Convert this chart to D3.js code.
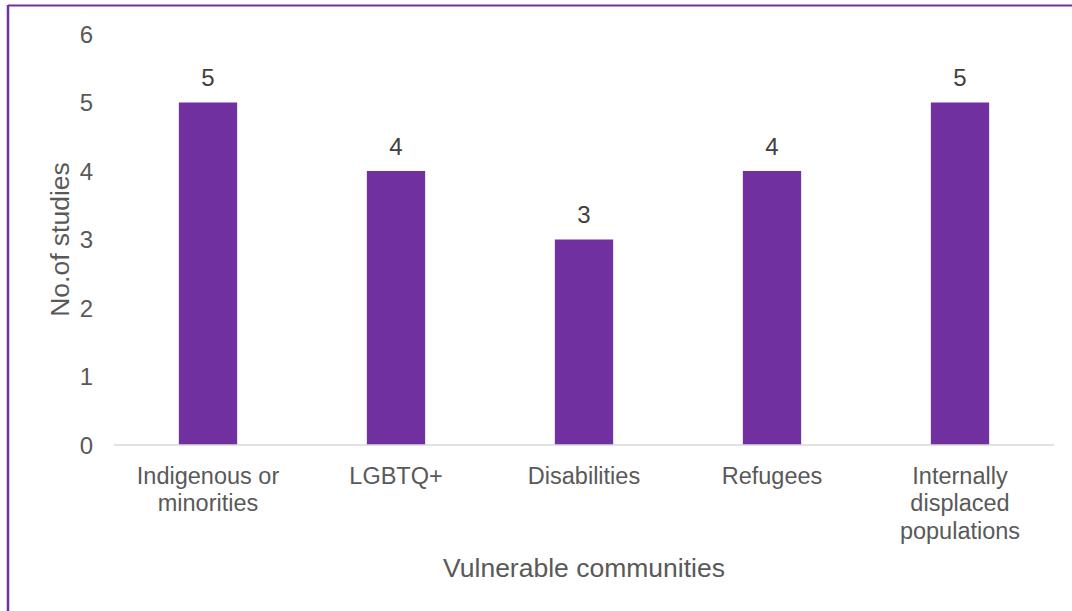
<!DOCTYPE html>
<html>
<head>
<meta charset="utf-8">
<script src="https://cdn.jsdelivr.net/npm/d3@7"></script>
<style>
  html, body { margin: 0; padding: 0; background: #fff; }
  svg { display: block; font-family: "Liberation Sans", Arial, sans-serif; }
</style>
</head>
<body>
<svg id="chart" width="1072" height="611"></svg>
<script>
// Number of studies per vulnerable community
const categories = [
  ["Indigenous or", "minorities"],
  ["LGBTQ+"],
  ["Disabilities"],
  ["Refugees"],
  ["Internally", "displaced", "populations"]
];
const studies = [5, 4, 3, 4, 5];
const yTicks = [0, 1, 2, 3, 4, 5, 6];

const svg = d3.select("#chart");
const W = 1072, H = 611;
const margin = { left: 114, right: 18, top: 34, bottom: 166 };
const textColor = "#595959";
const barColor = "#7030a0";
const fontFamily = "Liberation Sans, Arial, sans-serif";

// frame lines on top and left
svg.append("line").attr("x1", 8).attr("x2", W).attr("y1", 5.5).attr("y2", 5.5)
  .attr("stroke", barColor).attr("stroke-width", 2);
svg.append("line").attr("x1", 8).attr("x2", 8).attr("y1", 5).attr("y2", H)
  .attr("stroke", barColor).attr("stroke-width", 2.5);

const keys = categories.map((c, i) => i);
const x = d3.scaleBand().domain(keys).range([margin.left, W - margin.right]).paddingInner(0.69).paddingOuter(0.345);
const y = d3.scaleLinear().domain([0, 6]).range([H - margin.bottom, margin.top]);

// y axis tick labels
const yAxis = d3.axisLeft(y).tickValues(yTicks).tickSize(0).tickPadding(0).tickFormat(d3.format("d"));
const gy = svg.append("g").attr("transform", `translate(${margin.left - 21},0)`).call(yAxis);
gy.select(".domain").remove();
gy.selectAll("text").attr("fill", textColor).attr("font-size", 24)
  .attr("font-family", fontFamily).attr("dy", "0.35em");

// bars
svg.append("g").selectAll("rect").data(studies).join("rect")
  .attr("x", (d, i) => x(i))
  .attr("y", d => y(d))
  .attr("width", x.bandwidth())
  .attr("height", d => y(0) - y(d))
  .attr("fill", barColor);

// value labels
svg.append("g").selectAll("text").data(studies).join("text")
  .attr("x", (d, i) => x(i) + x.bandwidth() / 2)
  .attr("y", d => y(d) - 16.5)
  .attr("text-anchor", "middle")
  .attr("fill", "#404040")
  .attr("font-size", 24)
  .text(d => d);

// baseline
const xAxis = d3.axisBottom(x).tickSize(0).tickFormat("");
const gx = svg.append("g").attr("transform", `translate(0,${y(0)})`).call(xAxis);
gx.select(".domain").attr("stroke", "#d9d9d9").attr("stroke-width", 1.5)
  .attr("d", `M${margin.left},0H${W - margin.right}`);

// category labels
gx.selectAll(".tick").each(function (d) {
  const t = d3.select(this).append("text")
    .attr("text-anchor", "middle")
    .attr("fill", textColor)
    .attr("font-size", 23.5)
    .attr("font-family", fontFamily);
  categories[d].forEach((line, j) => {
    t.append("tspan").attr("x", 0).attr("y", 38.5 + j * 27.5).text(line);
  });
});

// axis titles
svg.append("text")
  .attr("x", (margin.left + W - margin.right) / 2)
  .attr("y", 577)
  .attr("text-anchor", "middle")
  .attr("fill", textColor)
  .attr("font-size", 26.5)
  .text("Vulnerable communities");

svg.append("text")
  .attr("transform", `translate(69,${(y(0) + y(6)) / 2}) rotate(-90)`)
  .attr("text-anchor", "middle")
  .attr("fill", textColor)
  .attr("font-size", 26.5)
  .text("No.of studies");
</script>
</body>
</html>
